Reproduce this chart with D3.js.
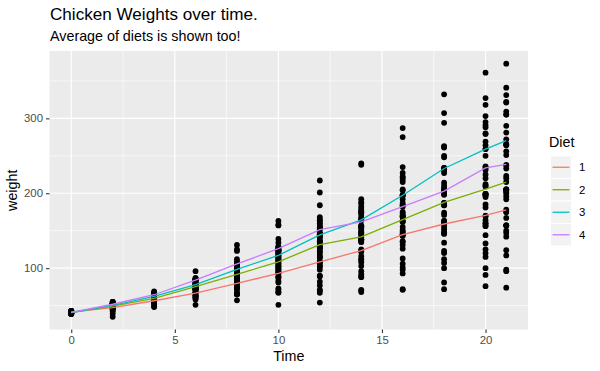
<!DOCTYPE html>
<html>
<head>
<meta charset="utf-8">
<script src="https://cdn.jsdelivr.net/npm/d3@7"></script>
<style>
  body { margin: 0; background: #fff; }
  text { font-family: "Liberation Sans", Arial, sans-serif; }
</style>
</head>
<body>
<div id="chart"></div>
<script>
// observation times (days)
var times = [0, 2, 4, 6, 8, 10, 12, 14, 16, 18, 20, 21];

// weights per chick, one row per chick, grouped by diet
var diet1 = [
  [42, 51, 59, 64, 76, 93, 106, 125, 149, 171, 199, 205],
  [40, 49, 58, 72, 84, 103, 122, 138, 162, 187, 209, 215],
  [43, 39, 55, 67, 84, 99, 115, 138, 163, 187, 198, 202],
  [42, 49, 56, 67, 74, 87, 102, 108, 136, 154, 160, 157],
  [41, 42, 48, 60, 79, 106, 141, 164, 197, 199, 220, 223],
  [41, 49, 59, 74, 97, 124, 141, 148, 155, 160, 160, 157],
  [41, 49, 57, 71, 89, 112, 146, 174, 218, 250, 288, 305],
  [42, 50, 61, 71, 84, 93, 110, 116, 126, 134, 125],
  [42, 51, 59, 68, 85, 96, 90, 92, 93, 100, 100, 98],
  [41, 44, 52, 63, 74, 81, 89, 96, 101, 112, 120, 124],
  [43, 51, 63, 84, 112, 139, 168, 177, 182, 184, 181, 175],
  [41, 49, 56, 62, 72, 88, 119, 135, 162, 185, 195, 205],
  [41, 48, 53, 60, 65, 67, 71, 70, 71, 81, 91, 96],
  [41, 49, 62, 79, 101, 128, 164, 192, 227, 248, 259, 266],
  [41, 49, 56, 64, 68, 68, 67, 68],
  [41, 45, 49, 51, 57, 51, 54],
  [42, 51, 61, 72, 83, 89, 98, 103, 113, 123, 133, 142],
  [39, 35],
  [43, 48, 55, 62, 65, 71, 82, 88, 106, 120, 144, 157],
  [41, 47, 54, 58, 65, 73, 77, 89, 98, 107, 115, 117]
];
var diet2 = [
  [40, 50, 62, 86, 125, 163, 217, 240, 275, 307, 318, 331],
  [41, 55, 64, 77, 90, 95, 108, 111, 131, 148, 164, 167],
  [43, 52, 61, 73, 90, 103, 127, 135, 145, 163, 170, 175],
  [42, 52, 58, 74, 66, 68, 70, 71, 72, 72, 76, 74],
  [40, 49, 62, 78, 102, 124, 146, 164, 197, 231, 259, 265],
  [42, 48, 57, 74, 93, 114, 136, 147, 169, 205, 236, 251],
  [39, 46, 58, 73, 87, 100, 115, 123, 144, 163, 185, 192],
  [39, 46, 58, 73, 92, 114, 145, 156, 184, 207, 212, 233],
  [39, 48, 59, 74, 87, 106, 134, 150, 187, 230, 279, 309],
  [42, 48, 59, 72, 85, 98, 115, 122, 143, 151, 157, 150]
];
var diet3 = [
  [42, 53, 62, 73, 85, 102, 123, 138, 170, 204, 235, 256],
  [41, 49, 65, 82, 107, 129, 159, 179, 221, 263, 291, 305],
  [39, 50, 63, 77, 96, 111, 137, 144, 151, 146, 156, 147],
  [41, 49, 63, 85, 107, 134, 164, 186, 235, 294, 327, 341],
  [41, 53, 64, 87, 123, 158, 201, 238, 287, 332, 361, 373],
  [39, 48, 61, 76, 98, 116, 145, 166, 198, 227, 225, 220],
  [41, 48, 56, 68, 80, 83, 103, 112, 135, 157, 169, 178],
  [41, 49, 61, 74, 98, 109, 128, 154, 192, 232, 280, 290],
  [42, 50, 61, 78, 89, 109, 130, 146, 170, 214, 250, 272],
  [41, 55, 66, 79, 101, 120, 154, 182, 215, 262, 295, 321]
];
var diet4 = [
  [42, 51, 66, 85, 103, 124, 155, 153, 175, 184, 199, 204],
  [42, 49, 63, 84, 103, 126, 160, 174, 204, 234, 269, 281],
  [42, 55, 69, 96, 131, 157, 184, 188, 197, 198, 199, 200],
  [42, 51, 65, 86, 103, 118, 127, 138, 145, 146],
  [41, 50, 61, 78, 98, 117, 135, 141, 147, 174, 197, 196],
  [40, 52, 62, 82, 101, 120, 144, 156, 173, 210, 231, 238],
  [41, 53, 66, 79, 100, 123, 148, 157, 168, 185, 210, 205],
  [39, 50, 62, 80, 104, 125, 154, 170, 222, 261, 303, 322],
  [40, 53, 64, 85, 108, 128, 152, 166, 184, 203, 233, 237],
  [41, 54, 67, 84, 105, 122, 155, 175, 205, 234, 264, 264]
];

var dietNames = ["1", "2", "3", "4"];
var dietColors = ["#F8766D", "#7CAE00", "#00BFC4", "#C77CFF"];
var xTicks = [0, 5, 10, 15, 20];
var yTicks = [100, 200, 300];

var W = 600, H = 371;
var panel = {left: 49.5, right: 528, top: 51, bottom: 329.5};

var svg = d3.select("#chart")
    .append("svg")
    .attr("width", W)
    .attr("height", H);

// long-format rows
var diets = [diet1, diet2, diet3, diet4];
var rows = [];
diets.forEach(function(chicks, di) {
  chicks.forEach(function(w) {
    w.forEach(function(v, i) {
      rows.push({time: times[i], weight: v, diet: di});
    });
  });
});

var xExt = d3.extent(rows, function(d) { return d.time; });
var yExt = d3.extent(rows, function(d) { return d.weight; });
var xPad = (xExt[1] - xExt[0]) * 0.05, yPad = (yExt[1] - yExt[0]) * 0.05;

var x = d3.scaleLinear()
    .domain([xExt[0] - xPad, xExt[1] + xPad])
    .range([panel.left, panel.right]);
var y = d3.scaleLinear()
    .domain([yExt[0] - yPad, yExt[1] + yPad])
    .range([panel.bottom, panel.top]);

// panel background
svg.append("rect")
    .attr("x", panel.left).attr("y", panel.top)
    .attr("width", panel.right - panel.left)
    .attr("height", panel.bottom - panel.top)
    .attr("fill", "#EBEBEB");

var grid = svg.append("g");
var xMinor = [2.5, 7.5, 12.5, 17.5];
var yMinor = [50, 150, 250, 350];
grid.selectAll(".xminor").data(xMinor).enter().append("line")
    .attr("x1", function(d) { return x(d); }).attr("x2", function(d) { return x(d); })
    .attr("y1", panel.top).attr("y2", panel.bottom)
    .attr("stroke", "#fff").attr("stroke-width", 0.6);
grid.selectAll(".yminor").data(yMinor).enter().append("line")
    .attr("y1", function(d) { return y(d); }).attr("y2", function(d) { return y(d); })
    .attr("x1", panel.left).attr("x2", panel.right)
    .attr("stroke", "#fff").attr("stroke-width", 0.6);
grid.selectAll(".xmajor").data(xTicks).enter().append("line")
    .attr("x1", function(d) { return x(d); }).attr("x2", function(d) { return x(d); })
    .attr("y1", panel.top).attr("y2", panel.bottom)
    .attr("stroke", "#fff").attr("stroke-width", 1.2);
grid.selectAll(".ymajor").data(yTicks).enter().append("line")
    .attr("y1", function(d) { return y(d); }).attr("y2", function(d) { return y(d); })
    .attr("x1", panel.left).attr("x2", panel.right)
    .attr("stroke", "#fff").attr("stroke-width", 1.2);

// axes
var xAxis = svg.append("g")
    .attr("transform", "translate(0," + panel.bottom + ")")
    .call(d3.axisBottom(x).tickValues(xTicks).tickSize(3.5).tickPadding(3));
var yAxis = svg.append("g")
    .attr("transform", "translate(" + panel.left + ",0)")
    .call(d3.axisLeft(y).tickValues(yTicks).tickSize(3.5).tickPadding(3));
[xAxis, yAxis].forEach(function(a) {
  a.select(".domain").remove();
  a.selectAll(".tick line").attr("stroke", "#333333").attr("stroke-width", 1.1);
  a.selectAll(".tick text")
      .attr("fill", "#4D4D4D")
      .style("font-size", "11.4px")
      .style("font-family", "Liberation Sans, Arial, sans-serif");
});

// points
svg.append("g")
    .selectAll("circle")
    .data(rows)
    .enter()
    .append("circle")
      .attr("cx", function(d) { return x(d.time); })
      .attr("cy", function(d) { return y(d.weight); })
      .attr("r", 2.9)
      .style("fill", "#000");

// mean lines per diet
var line = d3.line()
    .x(function(d) { return x(d.time); })
    .y(function(d) { return y(d.mean); });

diets.forEach(function(chicks, di) {
  var means = times.map(function(t, i) {
    var vals = chicks.filter(function(w) { return w.length > i; })
                     .map(function(w) { return w[i]; });
    return {time: t, mean: d3.mean(vals)};
  });
  svg.append("path")
      .datum(means)
      .attr("d", line)
      .attr("fill", "none")
      .attr("stroke", dietColors[di])
      .attr("stroke-width", 1.3);
});

// titles
svg.append("text")
    .attr("x", 50).attr("y", 20)
    .style("font-size", "17.1px")
    .attr("fill", "#000")
    .text("Chicken Weights over time.");
svg.append("text")
    .attr("x", 50).attr("y", 40.5)
    .style("font-size", "14.3px")
    .attr("fill", "#000")
    .text("Average of diets is shown too!");

svg.append("text")
    .attr("x", (panel.left + panel.right) / 2)
    .attr("y", 361)
    .attr("text-anchor", "middle")
    .style("font-size", "14.3px")
    .text("Time");
svg.append("text")
    .attr("transform", "translate(16.8," + ((panel.top + panel.bottom) / 2) + ") rotate(-90)")
    .attr("text-anchor", "middle")
    .style("font-size", "14.3px")
    .text("weight");

// legend
var legend = svg.append("g").attr("transform", "translate(550.5,0)");
legend.append("text")
    .attr("x", -1.5).attr("y", 147)
    .style("font-size", "14.3px")
    .text("Diet");
var keyH = 22.5, keyW = 21, keyTop = 156;
dietNames.forEach(function(name, i) {
  var ky = keyTop + i * keyH;
  legend.append("rect")
      .attr("x", 0).attr("y", ky)
      .attr("width", keyW).attr("height", keyH)
      .attr("fill", "#F2F2F2")
      .attr("stroke", "#fff").attr("stroke-width", 1);
  legend.append("line")
      .attr("x1", 2).attr("x2", keyW - 2)
      .attr("y1", ky + keyH / 2).attr("y2", ky + keyH / 2)
      .attr("stroke", dietColors[i]).attr("stroke-width", 1.3);
  legend.append("text")
      .attr("x", keyW + 7.5).attr("y", ky + keyH / 2 + 4)
      .style("font-size", "11.4px")
      .attr("fill", "#000")
      .text(name);
});
</script>
</body>
</html>
